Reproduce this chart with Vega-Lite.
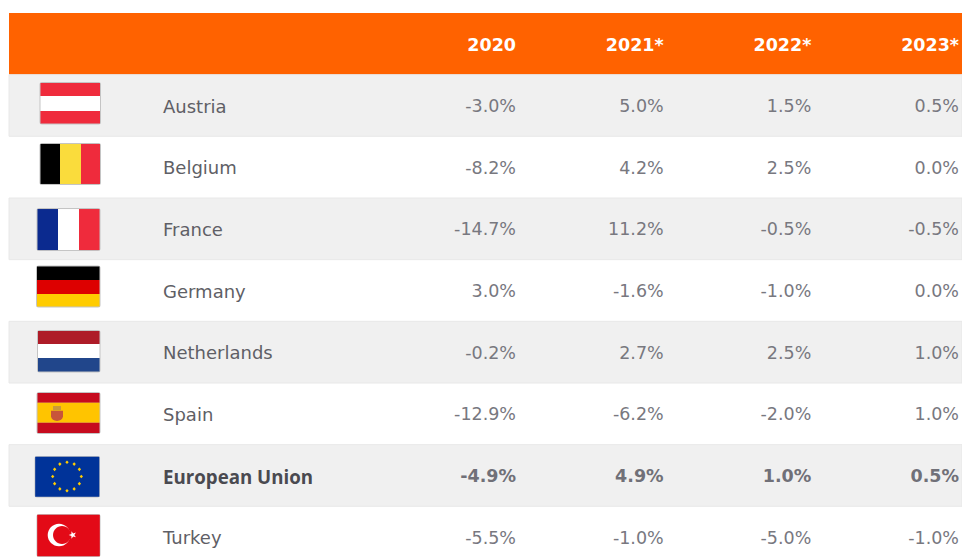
{
"$schema":"https://vega.github.io/schema/vega-lite/v6.json",
"width":953,"height":545,
"autosize":{"type":"none"},
"padding":{"left":9,"top":13,"right":0,"bottom":0},
"background":"#ffffff",
"config":{"view":{"stroke":null},"locale":{"number":{"decimal":".","thousands":",","grouping":[3],"currency":["$",""],"minus":"-"}}},
"datasets":{
"rows":[{"row":"header","shade":"orange"},{"row":"Austria","shade":"grey"},{"row":"Belgium","shade":"white"},{"row":"France","shade":"grey"},{"row":"Germany","shade":"white"},{"row":"Netherlands","shade":"grey"},{"row":"Spain","shade":"white"},{"row":"European Union","shade":"grey"},{"row":"Turkey","shade":"white"}],
"years":[{"row":"header","year":"2020"},{"row":"header","year":"2021*"},{"row":"header","year":"2022*"},{"row":"header","year":"2023*"}],
"cells":[
{"row":"Austria","year":"2020","growth":-0.03},{"row":"Austria","year":"2021*","growth":0.05},{"row":"Austria","year":"2022*","growth":0.015},{"row":"Austria","year":"2023*","growth":0.005},
{"row":"Belgium","year":"2020","growth":-0.082},{"row":"Belgium","year":"2021*","growth":0.042},{"row":"Belgium","year":"2022*","growth":0.025},{"row":"Belgium","year":"2023*","growth":0},
{"row":"France","year":"2020","growth":-0.147},{"row":"France","year":"2021*","growth":0.112},{"row":"France","year":"2022*","growth":-0.005},{"row":"France","year":"2023*","growth":-0.005},
{"row":"Germany","year":"2020","growth":0.03},{"row":"Germany","year":"2021*","growth":-0.016},{"row":"Germany","year":"2022*","growth":-0.01},{"row":"Germany","year":"2023*","growth":0},
{"row":"Netherlands","year":"2020","growth":-0.002},{"row":"Netherlands","year":"2021*","growth":0.027},{"row":"Netherlands","year":"2022*","growth":0.025},{"row":"Netherlands","year":"2023*","growth":0.01},
{"row":"Spain","year":"2020","growth":-0.129},{"row":"Spain","year":"2021*","growth":-0.062},{"row":"Spain","year":"2022*","growth":-0.02},{"row":"Spain","year":"2023*","growth":0.01},
{"row":"European Union","year":"2020","growth":-0.049},{"row":"European Union","year":"2021*","growth":0.049},{"row":"European Union","year":"2022*","growth":0.01},{"row":"European Union","year":"2023*","growth":0.005},
{"row":"Turkey","year":"2020","growth":-0.055},{"row":"Turkey","year":"2021*","growth":-0.01},{"row":"Turkey","year":"2022*","growth":-0.05},{"row":"Turkey","year":"2023*","growth":-0.01}
],
"flags":[
{"row":"Austria","part":"AT border"},{"row":"Austria","part":"AT top"},{"row":"Austria","part":"AT middle"},{"row":"Austria","part":"AT bottom"},
{"row":"Belgium","part":"BE border"},{"row":"Belgium","part":"BE left"},{"row":"Belgium","part":"BE middle"},{"row":"Belgium","part":"BE right"},
{"row":"France","part":"FR border"},{"row":"France","part":"FR left"},{"row":"France","part":"FR middle"},{"row":"France","part":"FR right"},
{"row":"Germany","part":"DE border"},{"row":"Germany","part":"DE top"},{"row":"Germany","part":"DE middle"},{"row":"Germany","part":"DE bottom"},
{"row":"Netherlands","part":"NL border"},{"row":"Netherlands","part":"NL top"},{"row":"Netherlands","part":"NL middle"},{"row":"Netherlands","part":"NL bottom"},
{"row":"Spain","part":"ES border"},{"row":"Spain","part":"ES top"},{"row":"Spain","part":"ES middle"},{"row":"Spain","part":"ES bottom"},{"row":"Spain","part":"ES emblem"},{"row":"Spain","part":"ES crown"},
{"row":"European Union","part":"EU border"},{"row":"European Union","part":"EU field"},{"row":"European Union","part":"EU stars"},
{"row":"Turkey","part":"TR border"},{"row":"Turkey","part":"TR field"},{"row":"Turkey","part":"TR moon"},{"row":"Turkey","part":"TR cut"},{"row":"Turkey","part":"TR star"}
]
},
"encoding":{"y":{"field":"row","type":"nominal","axis":null,"sort":null,"scale":{"type":"band","domain":["header","Austria","Belgium","France","Germany","Netherlands","Spain","European Union","Turkey"],"range":[0,555],"paddingInner":0,"paddingOuter":0}}},
"resolve":{"scale":{"x":"independent"}},
"layer":[
{"data":{"name":"rows"},"transform":[{"filter":"datum.shade==='orange'"}],"mark":{"type":"rect","fill":"#ff6200"}},
{"data":{"name":"rows"},"transform":[{"filter":"datum.shade==='grey'"}],"mark":{"type":"rect","fill":"#f0f0f0","stroke":"#e8e8e8","strokeWidth":1}},
{"data":{"name":"flags"},"mark":{"type":"point","filled":true,"opacity":1,"size":4,"strokeWidth":0},
 "encoding":{"x":{"datum":"flag","type":"nominal","axis":null,"scale":{"type":"point","domain":["flag"],"range":[60,60]}},
 "shape":{"field":"part","type":"nominal","legend":null,"scale":{
 "domain":["AT border","AT top","AT middle","AT bottom","BE border","BE left","BE middle","BE right","FR border","FR left","FR middle","FR right","DE border","DE top","DE middle","DE bottom","NL border","NL top","NL middle","NL bottom","ES border","ES top","ES middle","ES bottom","ES emblem","ES crown","EU border","EU field","EU stars","TR border","TR field","TR moon","TR cut","TR star"],
 "range":[
 "M-27,-23.5H29.5Q32,-23.5 32,-21V16.5Q32,19 29.5,19H-27Q-29.5,19 -29.5,16.5V-21Q-29.5,-23.5 -27,-23.5Z","M-28.5,-22.5H31V-9.5H-28.5Z","M-28.5,-9.5H31V5.5H-28.5Z","M-28.5,5.5H31V18H-28.5Z",
 "M-27,-24.2H29.5Q32,-24.2 32,-21.7V15.3Q32,17.8 29.5,17.8H-27Q-29.5,17.8 -29.5,15.3V-21.7Q-29.5,-24.2 -27,-24.2Z","M-28.5,-23.2H-9V16.8H-28.5Z","M-9,-23.2H12V16.8H-9Z","M12,-23.2H31V16.8H12Z",
 "M-30,-20.8H29Q31.5,-20.8 31.5,-18.3V19.7Q31.5,22.2 29,22.2H-30Q-32.5,22.2 -32.5,19.7V-18.3Q-32.5,-20.8 -30,-20.8Z","M-31.5,-19.8H-11V21.2H-31.5Z","M-11,-19.8H10V21.2H-11Z","M10,-19.8H30.5V21.2H10Z",
 "M-30.5,-25H29Q31.5,-25 31.5,-22.5V14.5Q31.5,17 29,17H-30.5Q-33,17 -33,14.5V-22.5Q-33,-25 -30.5,-25Z","M-32,-24H30.5V-10.5H-32Z","M-32,-10.5H30.5V3.5H-32Z","M-32,3.5H30.5V16H-32Z",
 "M-29.5,-22.2H29Q31.5,-22.2 31.5,-19.7V17.8Q31.5,20.3 29,20.3H-29.5Q-32,20.3 -32,17.8V-19.7Q-32,-22.2 -29.5,-22.2Z","M-31,-21.2H30.5V-8.2H-31Z","M-31,-8.2H30.5V5.8H-31Z","M-31,5.8H30.5V19.3H-31Z",
 "M-30,-21.8H29Q31.5,-21.8 31.5,-19.3V17.7Q31.5,20.2 29,20.2H-30Q-32.5,20.2 -32.5,17.7V-19.3Q-32.5,-21.8 -30,-21.8Z","M-31.5,-20.8H30.5V-11H-31.5Z","M-31.5,-11H30.5V9H-31.5Z","M-31.5,9H30.5V19.2H-31.5Z",
 "M-18,-3H-6V3Q-7,7 -12,7.2Q-17,7 -18,3Z","M-16,-7.8H-8V-3.5H-16Z",
 "M-32,-19.5H28.5Q31,-19.5 31,-17V19.5Q31,22 28.5,22H-32Q-34.5,22 -34.5,19.5V-17Q-34.5,-19.5 -32,-19.5Z","M-33.8,-18.8H30.3V21.3H-33.8Z",
 "M-2,-15.1l1.7,1.8l-1.7,1.8l-1.7,-1.8zM5.15,-13.18l1.7,1.8l-1.7,1.8l-1.7,-1.8zM10.38,-7.95l1.7,1.8l-1.7,1.8l-1.7,-1.8zM12.3,-0.8l1.7,1.8l-1.7,1.8l-1.7,-1.8zM10.38,6.35l1.7,1.8l-1.7,1.8l-1.7,-1.8zM5.15,11.58l1.7,1.8l-1.7,1.8l-1.7,-1.8zM-2,13.5l1.7,1.8l-1.7,1.8l-1.7,-1.8zM-9.15,11.58l1.7,1.8l-1.7,1.8l-1.7,-1.8zM-14.38,6.35l1.7,1.8l-1.7,1.8l-1.7,-1.8zM-16.3,-0.8l1.7,1.8l-1.7,1.8l-1.7,-1.8zM-14.38,-7.95l1.7,1.8l-1.7,1.8l-1.7,-1.8zM-9.15,-13.18l1.7,1.8l-1.7,1.8l-1.7,-1.8z",
 "M-30,-23.2H29Q31.5,-23.2 31.5,-20.7V17.3Q31.5,19.8 29,19.8H-30Q-32.5,19.8 -32.5,17.3V-20.7Q-32.5,-23.2 -30,-23.2Z","M-31.8,-22.5H30.8V19.1H-31.8Z",
 "M-21.3,-2.2a11.3,11.3 0 1,0 22.6,0a11.3,11.3 0 1,0 -22.6,0z","M-16,-2.2a9,9 0 1,0 18,0a9,9 0 1,0 -18,0z",
 "M-0.3,-2.2L2.41,-3.14L2.46,-6L4.19,-3.72L6.94,-4.55L5.3,-2.2L6.94,0.15L4.19,-0.68L2.46,1.6L2.41,-1.26Z"
 ]}},
 "color":{"field":"part","type":"nominal","legend":null,"scale":{
 "domain":["AT border","AT top","AT middle","AT bottom","BE border","BE left","BE middle","BE right","FR border","FR left","FR middle","FR right","DE border","DE top","DE middle","DE bottom","NL border","NL top","NL middle","NL bottom","ES border","ES top","ES middle","ES bottom","ES emblem","ES crown","EU border","EU field","EU stars","TR border","TR field","TR moon","TR cut","TR star"],
 "range":["#c4c4c4","#ef2b3c","#ffffff","#ef2b3c","#c4c4c4","#000000","#fadc3c","#ef2b3c","#c4c4c4","#0b2a8f","#ffffff","#ef2b3c","#c4c4c4","#000000","#dd0000","#ffcc00","#c4c4c4","#ae1c28","#ffffff","#21468b","#c4c4c4","#c60b1e","#ffc400","#c60b1e","#c8553a","#c99a3a","#c4c4c4","#003399","#ffcc00","#c4c4c4","#e30a17","#ffffff","#e30a17","#ffffff"]}}}},
{"data":{"name":"rows"},"transform":[{"filter":"datum.row!=='header' && datum.row!=='European Union'"}],"mark":{"type":"text","align":"left","baseline":"middle","dy":2,"font":"DejaVu Sans","fontSize":18,"fill":"#5f5f66"},
 "encoding":{"x":{"datum":"country","type":"nominal","axis":null,"scale":{"type":"point","domain":["country"],"range":[154,154]}},"text":{"field":"row"}}},
{"data":{"name":"rows"},"transform":[{"filter":"datum.row==='European Union'"}],"mark":{"type":"text","align":"left","baseline":"middle","dy":2,"font":"Open Sans","fontSize":18.7,"fontWeight":"bold","fill":"#4a4a50"},
 "encoding":{"x":{"datum":"country","type":"nominal","axis":null,"scale":{"type":"point","domain":["country"],"range":[154,154]}},"text":{"field":"row"}}},
{"data":{"name":"years"},"mark":{"type":"text","align":"right","baseline":"middle","dy":2,"font":"DejaVu Sans","fontSize":17.5,"fontWeight":"bold","fill":"#ffffff"},
 "encoding":{"x":{"field":"year","type":"nominal","axis":null,"scale":{"type":"point","domain":["2020","2021*","2022*","2023*"],"range":[507,950],"padding":0}},"text":{"field":"year"}}},
{"data":{"name":"cells"},"transform":[{"filter":"datum.row!=='European Union'"}],"mark":{"type":"text","align":"right","baseline":"middle","dy":1.5,"font":"DejaVu Sans","fontSize":17.5,"fill":"#78787f"},
 "encoding":{"x":{"field":"year","type":"nominal","axis":null,"scale":{"type":"point","domain":["2020","2021*","2022*","2023*"],"range":[507,950],"padding":0}},"text":{"field":"growth","type":"quantitative","format":".1%"}}},
{"data":{"name":"cells"},"transform":[{"filter":"datum.row==='European Union'"}],"mark":{"type":"text","align":"right","baseline":"middle","dy":1.5,"font":"DejaVu Sans","fontSize":17.5,"fontWeight":"bold","fill":"#707078"},
 "encoding":{"x":{"field":"year","type":"nominal","axis":null,"scale":{"type":"point","domain":["2020","2021*","2022*","2023*"],"range":[507,950],"padding":0}},"text":{"field":"growth","type":"quantitative","format":".1%"}}}
]
}
